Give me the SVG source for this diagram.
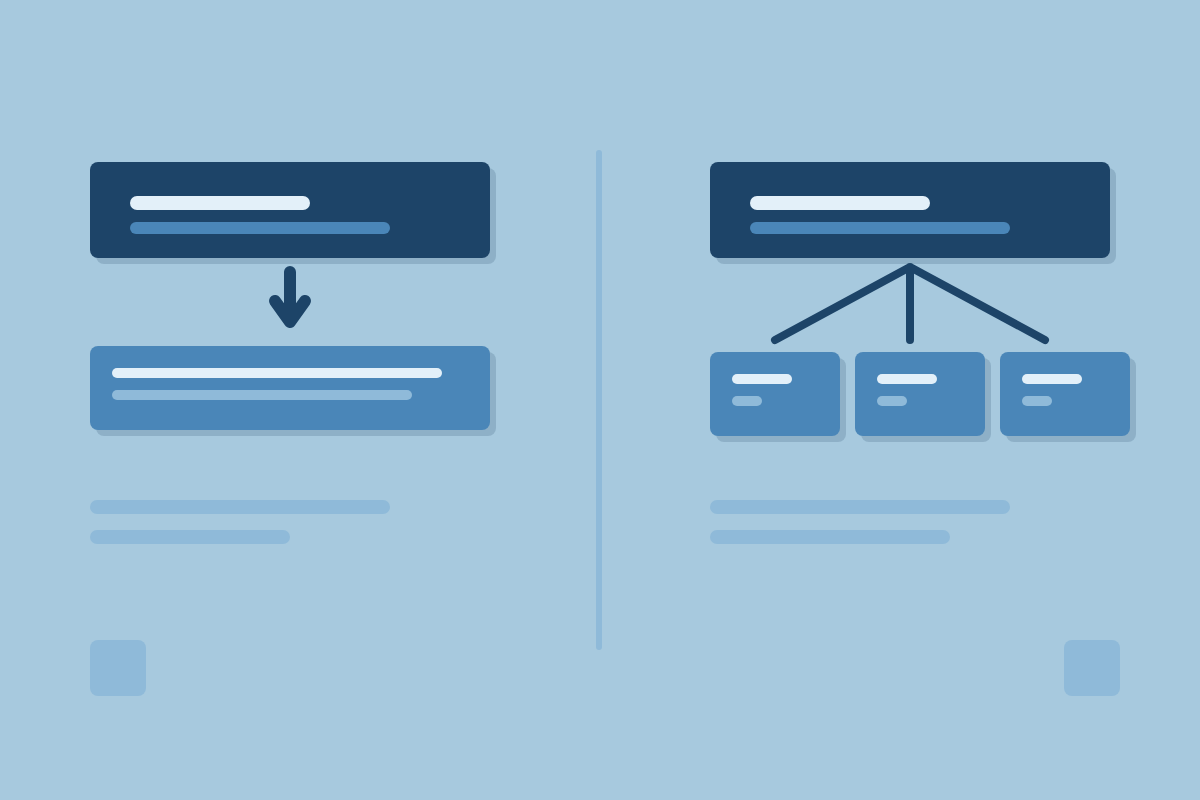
<svg xmlns="http://www.w3.org/2000/svg" width="1200" height="800" viewBox="0 0 1200 800">
<defs>
<style>
.bg{fill:#a7c9de}
.shadow{fill:#8eb0c7}
.dark{fill:#1d4468}
.mid{fill:#4a86b8}
.hi{fill:#e3f0f9}
.soft{fill:#8fbad9}
.conn{stroke:#1d4468;fill:none;stroke-linecap:round;stroke-linejoin:round}
</style>
</defs>
<rect class="bg" x="0" y="0" width="1200" height="800"/>
<rect x="596" y="150" width="6" height="500" rx="3" class="soft"/>
<g id="left-top">
<rect class="shadow" x="96" y="168" width="400" height="96" rx="8"/>
<rect class="dark" x="90" y="162" width="400" height="96" rx="8"/>
<rect class="hi" x="130" y="196" width="180" height="14" rx="7"/>
<rect class="mid" x="130" y="222" width="260" height="12" rx="6"/>
</g>
<g id="left-bottom">
<rect class="shadow" x="96" y="352" width="400" height="84" rx="8"/>
<rect class="mid" x="90" y="346" width="400" height="84" rx="8"/>
<rect class="hi" x="112" y="368" width="330" height="10" rx="5"/>
<rect class="soft" x="112" y="390" width="300" height="10" rx="5"/>
</g>
<g id="right-top">
<rect class="shadow" x="716" y="168" width="400" height="96" rx="8"/>
<rect class="dark" x="710" y="162" width="400" height="96" rx="8"/>
<rect class="hi" x="750" y="196" width="180" height="14" rx="7"/>
<rect class="mid" x="750" y="222" width="260" height="12" rx="6"/>
</g>
<g id="child-1">
<rect class="shadow" x="716" y="358" width="130" height="84" rx="8"/>
<rect class="mid" x="710" y="352" width="130" height="84" rx="8"/>
<rect class="hi" x="732" y="374" width="60" height="10" rx="5"/>
<rect class="soft" x="732" y="396" width="30" height="10" rx="5"/>
</g>
<g id="child-2">
<rect class="shadow" x="861" y="358" width="130" height="84" rx="8"/>
<rect class="mid" x="855" y="352" width="130" height="84" rx="8"/>
<rect class="hi" x="877" y="374" width="60" height="10" rx="5"/>
<rect class="soft" x="877" y="396" width="30" height="10" rx="5"/>
</g>
<g id="child-3">
<rect class="shadow" x="1006" y="358" width="130" height="84" rx="8"/>
<rect class="mid" x="1000" y="352" width="130" height="84" rx="8"/>
<rect class="hi" x="1022" y="374" width="60" height="10" rx="5"/>
<rect class="soft" x="1022" y="396" width="30" height="10" rx="5"/>
</g>
<g id="connectors">
<path class="conn" stroke-width="12" d="M290 272 V322 M275 301 L290 322 L305 301"/>
<path class="conn" stroke-width="8" d="M775 340 L910 267 L1045 340 M910 267 V340"/>
</g>
<g id="left-notes">
<rect class="soft" x="90" y="500" width="300" height="14" rx="7"/>
<rect class="soft" x="90" y="530" width="200" height="14" rx="7"/>
<rect class="soft" x="90" y="640" width="56" height="56" rx="8"/>
</g>
<g id="right-notes">
<rect class="soft" x="710" y="500" width="300" height="14" rx="7"/>
<rect class="soft" x="710" y="530" width="240" height="14" rx="7"/>
<rect class="soft" x="1064" y="640" width="56" height="56" rx="8"/>
</g>
</svg>
